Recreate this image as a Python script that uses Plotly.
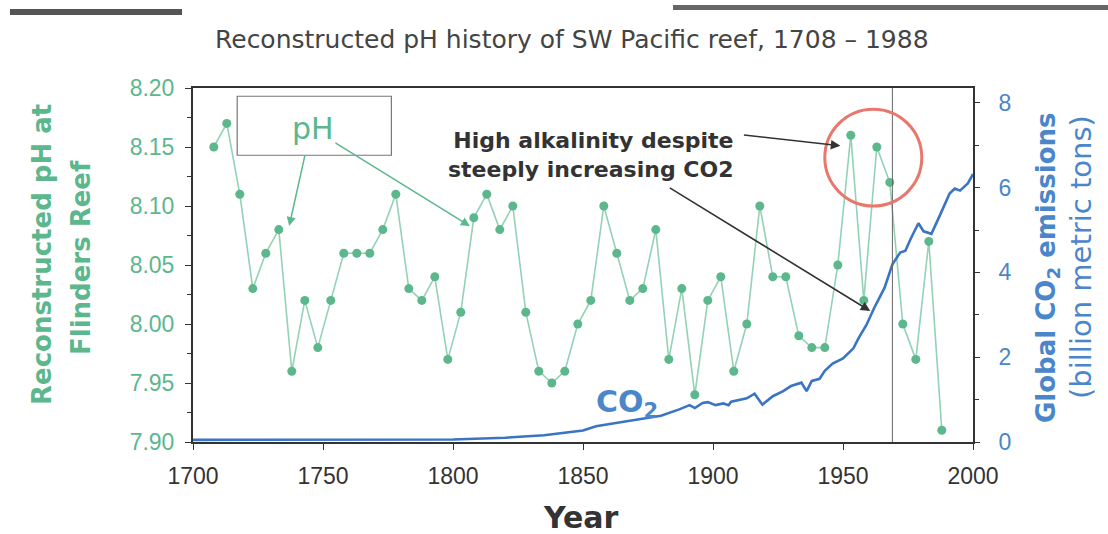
import plotly.graph_objects as go

# pH record, Flinders Reef (5-year samples)
ph_years = [1708, 1713, 1718, 1723, 1728, 1733, 1738, 1743, 1748, 1753,
            1758, 1763, 1768, 1773, 1778, 1783, 1788, 1793, 1798, 1803,
            1808, 1813, 1818, 1823, 1828, 1833, 1838, 1843, 1848, 1853,
            1858, 1863, 1868, 1873, 1878, 1883, 1888, 1893, 1898, 1903,
            1908, 1913, 1918, 1923, 1928, 1933, 1938, 1943, 1948, 1953,
            1958, 1963, 1968, 1973, 1978, 1983, 1988]
ph_values = [8.15, 8.17, 8.11, 8.03, 8.06, 8.08, 7.96, 8.02, 7.98, 8.02,
             8.06, 8.06, 8.06, 8.08, 8.11, 8.03, 8.02, 8.04, 7.97, 8.01,
             8.09, 8.11, 8.08, 8.10, 8.01, 7.96, 7.95, 7.96, 8.00, 8.02,
             8.10, 8.06, 8.02, 8.03, 8.08, 7.97, 8.03, 7.94, 8.02, 8.04,
             7.96, 8.00, 8.10, 8.04, 8.04, 7.99, 7.98, 7.98, 8.05, 8.16,
             8.02, 8.15, 8.12, 8.00, 7.97, 8.07, 7.91]

# global CO2 emissions (billion metric tons)
co2_years = [1700, 1750, 1800, 1820, 1835, 1850, 1855, 1868, 1880, 1887,
             1891, 1893, 1896, 1898, 1901, 1904, 1906, 1907, 1913, 1916,
             1919, 1923, 1927, 1930, 1934, 1936, 1938, 1941, 1943, 1946,
             1950, 1954, 1956, 1959, 1962, 1966, 1969, 1972, 1974, 1976,
             1979, 1981, 1984, 1987, 1991, 1993, 1995, 1998, 2000]
co2_values = [0.05, 0.05, 0.06, 0.10, 0.16, 0.27, 0.37, 0.50, 0.62, 0.77,
              0.87, 0.80, 0.92, 0.94, 0.87, 0.91, 0.87, 0.95, 1.03, 1.14,
              0.88, 1.08, 1.20, 1.32, 1.40, 1.20, 1.44, 1.49, 1.68, 1.85,
              1.97, 2.21, 2.45, 2.76, 3.16, 3.64, 4.19, 4.47, 4.51, 4.79,
              5.16, 4.97, 4.91, 5.31, 5.86, 5.98, 5.93, 6.10, 6.32]

x_ticks = [1700, 1750, 1800, 1850, 1900, 1950, 2000]

GREEN = "#5cb78d"
GREEN_LINE = "#93d2b5"
BLUE = "#3a74c4"
BLUE_TXT = "#4a86c9"
DARK = "#333333"
FONT = "Liberation Sans, Arial, sans-serif"
WIDE = "DejaVu Sans, Liberation Sans, sans-serif"

# plot box in pixels (for placing decorations in paper units)
L, R, T, B = 193, 973, 88, 442
def px(x):
    return (x - L) / (R - L)
def py(y):
    return (B - y) / (B - T)

fig = go.Figure()

fig.add_trace(go.Scatter(
    x=ph_years, y=ph_values, mode="lines+markers",
    line=dict(color=GREEN_LINE, width=1.6),
    marker=dict(color=GREEN, size=9),
    showlegend=False, yaxis="y"))

fig.add_trace(go.Scatter(
    x=co2_years, y=co2_values, mode="lines",
    line=dict(color=BLUE, width=2.6),
    showlegend=False, yaxis="y2"))

shapes = [
    # vertical marker line
    dict(type="line", xref="x", yref="paper", x0=1969, x1=1969, y0=0, y1=1,
         line=dict(color="#666", width=1)),
    # red circle round the recent highs
    dict(type="circle", xref="x", yref="y", x0=1943, x1=1980.3, y0=8.10, y1=8.182,
         line=dict(color="#e8776c", width=3)),
    # pH label box
    dict(type="rect", xref="x", yref="y", x0=1717, x1=1776.3, y0=8.143, y1=8.193,
         line=dict(color="#777", width=1.2), fillcolor="rgba(255,255,255,0)"),
    # scan bars at top
    dict(type="rect", xref="paper", yref="paper", x0=px(10), x1=px(182), y0=py(15), y1=py(9),
         line=dict(width=0), fillcolor="#555"),
    dict(type="rect", xref="paper", yref="paper", x0=px(673), x1=px(1108), y0=py(10), y1=py(5),
         line=dict(width=0), fillcolor="#666"),
]

def label(text, x, y, size, color, angle=0, ref="paper", yref=None, **kw):
    d = dict(text=text, xref=ref, yref=yref or ref, x=x, y=y, showarrow=False,
             xanchor="center", yanchor="middle", textangle=angle,
             font=dict(size=size, color=color, family=WIDE))
    d.update(kw)
    return d

annotations = [
    label("Reconstructed pH history of SW Pacific reef, 1708 \u2013 1988",
          px(572), py(40), 25, "#444"),
    label("pH", 1746, 8.166, 30, GREEN, ref="x", yref="y"),
    # green arrows from pH box
    dict(text="", xref="x", yref="y", x=1737, y=8.083, ax=16, ay=-72,
         showarrow=True, arrowhead=2, arrowsize=1.2, arrowwidth=1.5, arrowcolor=GREEN),
    dict(text="", xref="x", yref="y", x=1806.5, y=8.083, ax=-136, ay=-84,
         showarrow=True, arrowhead=2, arrowsize=1.2, arrowwidth=1.5, arrowcolor=GREEN),
    label("<b>High alkalinity despite<br>steeply increasing CO2</b>",
          1908.5, 8.143, 22, DARK, ref="x", yref="y", xanchor="right", align="right"),
    dict(text="", xref="x", yref="y", x=1949, y=8.151, ax=-98, ay=-11,
         showarrow=True, arrowhead=2, arrowsize=1.2, arrowwidth=1.6, arrowcolor=DARK),
    dict(text="", xref="x", yref="y", x=1960.5, y=8.011, ax=-202, ay=-124,
         showarrow=True, arrowhead=2, arrowsize=1.2, arrowwidth=1.6, arrowcolor=DARK),
    label("<b>CO<sub>2</sub></b>", 1867, 0.9, 30, BLUE_TXT, ref="x", yref="y2"),
    # axis titles
    label("<b>Reconstructed pH at</b>", px(42), py(255), 26, GREEN, angle=-90),
    label("<b>Flinders Reef</b>", px(81), py(258), 26, GREEN, angle=-90),
    label("<b>Global CO<sub>2</sub> emissions</b>", px(1047), py(268), 26, BLUE_TXT, angle=-90),
    label("(billion metric tons)", px(1081), py(257), 29, BLUE_TXT, angle=-90),
    label("<b>Year</b>", px(581), py(517), 30, DARK),
]

fig.update_layout(
    width=1108, height=534,
    margin=dict(l=L, r=1108 - R, t=T, b=534 - B),
    paper_bgcolor="white", plot_bgcolor="white",
    font=dict(family=FONT),
    shapes=shapes, annotations=annotations,
    xaxis=dict(
        range=[1700, 2000], tickvals=x_ticks, ticks="outside", ticklen=6,
        tickcolor=DARK, showline=True, linecolor=DARK, linewidth=2, mirror=True,
        showgrid=False, zeroline=False, ticklabelstandoff=6,
        tickfont=dict(size=23, color=DARK, family=FONT),
    ),
    yaxis=dict(
        range=[7.90, 8.20], dtick=0.05, tickformat=".2f", ticks="outside", ticklen=6,
        tickcolor=DARK, showline=True, linecolor=DARK, linewidth=2,
        showgrid=False, zeroline=False, ticklabelstandoff=6,
        minor=dict(dtick=0.025, ticks="outside", ticklen=4, tickcolor=DARK),
        tickfont=dict(size=23, color=GREEN, family=FONT),
    ),
    yaxis2=dict(
        range=[0, 8.35], dtick=2, overlaying="y", side="right",
        ticks="outside", ticklen=5, tickcolor=DARK,
        showline=True, linecolor=DARK, linewidth=2,
        showgrid=False, zeroline=False, ticklabelstandoff=14,
        minor=dict(dtick=1, ticks="outside", ticklen=4, tickcolor=DARK),
        tickfont=dict(size=23, color=BLUE_TXT, family=FONT),
    ),
)

fig.write_html("out.html", config={"displayModeBar": False},
               post_script="document.body.style.margin='0';")
